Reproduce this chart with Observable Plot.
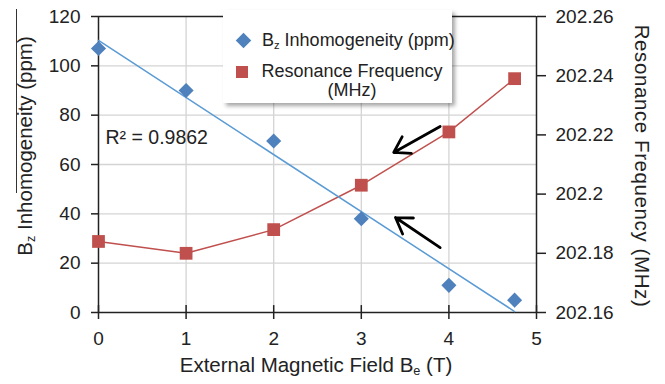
<!DOCTYPE html>
<html><head><meta charset="utf-8">
<script src="https://cdn.jsdelivr.net/npm/d3@7"></script>
<script src="https://cdn.jsdelivr.net/npm/@observablehq/plot@0.6"></script>
<style>
body{margin:0;background:#fff;font-family:"Liberation Sans",Arial,sans-serif;}
#wrap{position:relative;width:665px;height:384px;overflow:hidden;}
.lbl{position:absolute;white-space:nowrap;color:#222;line-height:1;}
.lbl sub{font-size:0.62em;vertical-align:-0.25em;}
#legend{position:absolute;left:223px;top:10px;width:229px;height:93px;background:#fff;box-shadow:3px 3px 4px rgba(0,0,0,0.35);font-size:18px;color:#222;}
</style></head><body><div id="wrap"></div>
<script>
const fieldT = [0, 1, 2, 3, 4, 4.75];
const inhomogeneityPpm = [107, 90, 69.5, 38, 11, 5];
const resonanceMHz = [202.184, 202.180, 202.188, 202.203, 202.221, 202.239];
const xTicks = [0, 1, 2, 3, 4, 5];
const leftTicks = [0, 20, 40, 60, 80, 100, 120];
const rightTicks = [202.16, 202.18, 202.2, 202.22, 202.24, 202.26];
const arrowNotes = [
  {x1: 3.9, y1: 75.4, x2: 3.37, y2: 64.9},
  {x1: 3.9, y1: 26.3, x2: 3.39, y2: 38.5}
];
const r2Label = ["R² = 0.9862"];

const fMin = 202.16, fMax = 202.26, yMax = 120;
const toLeft = f => (f - fMin) / (fMax - fMin) * yMax;
const fromLeft = v => fMin + v / yMax * (fMax - fMin);

const blue = fieldT.map((x, i) => ({x, y: inhomogeneityPpm[i]}));
const red = fieldT.map((x, i) => ({x, y: toLeft(resonanceMHz[i])}));
const ink = "#222";
const font = '"Liberation Sans", Arial, sans-serif';

const chart = Plot.plot({
  width: 665, height: 384,
  marginLeft: 98, marginRight: 129, marginTop: 16, marginBottom: 72,
  style: {fontFamily: font, fontSize: "19px", color: ink, background: "#fff"},
  x: {domain: [0, 5]},
  y: {domain: [0, 120]},
  marks: [
    Plot.gridX(xTicks.slice(1, -1), {stroke: "#d4d4d4", strokeOpacity: 1, strokeWidth: 1.3}),
    Plot.gridY(leftTicks.slice(1, -1), {stroke: "#d4d4d4", strokeOpacity: 1, strokeWidth: 1.3}),
    Plot.ruleY([0, 120], {stroke: ink, strokeWidth: 1.5}),
    Plot.ruleX([0, 5], {stroke: ink, strokeWidth: 1.5}),
    Plot.axisY(leftTicks, {anchor: "left", tickSize: 7, tickPadding: 11, label: null, stroke: ink, strokeWidth: 1.5, fontSize: 19}),
    Plot.axisY(rightTicks.map(toLeft), {anchor: "right", tickSize: 9, tickPadding: 10, label: null, stroke: ink, strokeWidth: 1.5, fontSize: 19,
      tickFormat: d => String(+fromLeft(d).toFixed(2))}),
    Plot.axisX(xTicks, {anchor: "bottom", tickSize: 7, tickPadding: 12, label: null, stroke: ink, strokeWidth: 1.5, fontSize: 19}),
    Plot.ruleX(xTicks, {y1: 0, y2: 2.8, stroke: ink, strokeWidth: 1.5}),
    Plot.line(red, {x: "x", y: "y", stroke: "#c0504d", strokeWidth: 1.5}),
    Plot.linearRegressionY(blue, {x: "x", y: "y", ci: 0, stroke: "#5b9bd5", strokeWidth: 1.5}),
    Plot.dot(blue, {x: "x", y: "y", symbol: "diamond2", r: 6.8, fill: "#4f81bd", stroke: "none"}),
    Plot.dot(red, {x: "x", y: "y", symbol: "square", r: 7.2, fill: "#c0504d", stroke: "none"}),
    Plot.arrow(arrowNotes, {x1: "x1", y1: "y1", x2: "x2", y2: "y2", stroke: "black", strokeWidth: 2.8, headLength: 15, headAngle: 65}),
    Plot.text(r2Label, {x: 0.08, y: 71, text: d => d, textAnchor: "start", fontSize: 19.5, fill: ink})
  ]
});

const wrap = document.getElementById("wrap");
wrap.appendChild(chart);

function addLabel(html, left, top, rot, size, spacing) {
  const d = document.createElement("div");
  d.className = "lbl";
  d.innerHTML = html;
  d.style.left = left + "px";
  d.style.top = top + "px";
  d.style.fontSize = size + "px";
  if (spacing) d.style.letterSpacing = spacing + "px";
  d.style.transform = `translate(-50%,-50%) rotate(${rot}deg)`;
  wrap.appendChild(d);
  return d;
}
addLabel("B<sub>z</sub> Inhomogeneity (ppm)", 26, 146, -90, 20.5);
addLabel("Resonance Frequency (MHz)", 642, 166, 90, 20.5, 0.6);
addLabel("External Magnetic Field B<sub>e</sub> (T)", 316, 366, 0, 20.5);

const over = document.createElement("div");
over.style.cssText = "position:absolute;left:16px;top:9px;width:1.3px;height:184px;background:#333;";
wrap.appendChild(over);

const legend = document.createElement("div");
legend.id = "legend";
legend.innerHTML = `
<div style="position:absolute;left:15px;top:24.5px;width:11px;height:11px;background:#4f81bd;transform:rotate(45deg);"></div>
<div class="lbl" style="left:39px;top:21px;">B<sub>z</sub> Inhomogeneity (ppm)</div>
<div style="position:absolute;left:13px;top:56px;width:12px;height:12px;background:#c0504d;"></div>
<div class="lbl" style="left:0;width:258px;text-align:center;top:52px;line-height:19px;">Resonance Frequency<br>(MHz)</div>`;
wrap.appendChild(legend);
</script></body></html>
